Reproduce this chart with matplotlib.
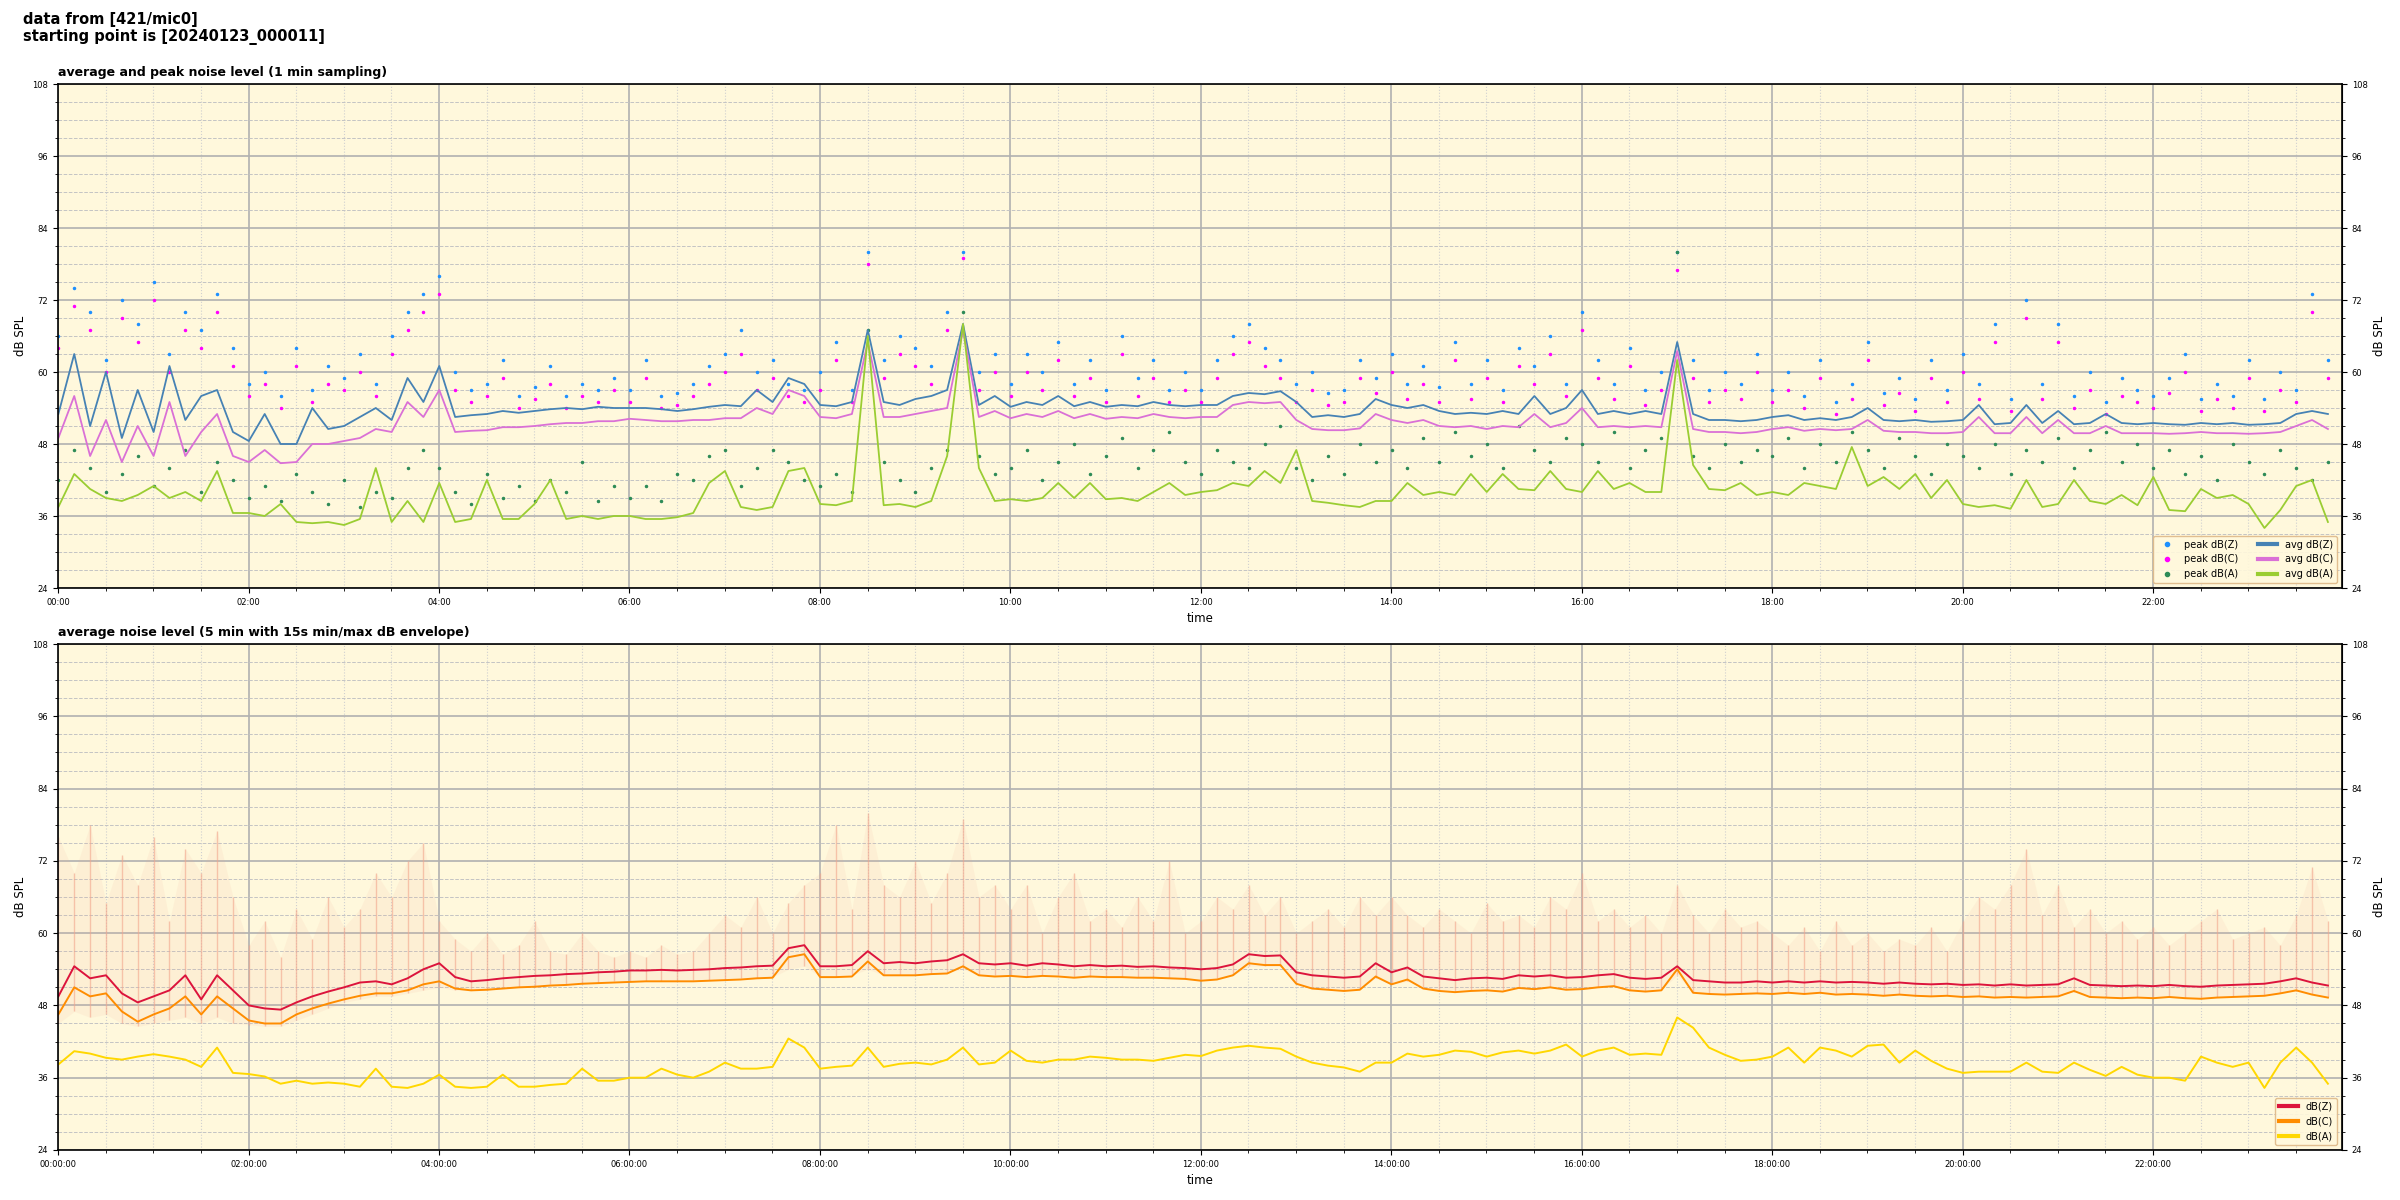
import numpy as np
import matplotlib
matplotlib.use("Agg")
import matplotlib.pyplot as plt
import matplotlib.dates as mdates
from matplotlib.ticker import MultipleLocator

# --- values, one every 10 min (12 per row = 2 h) ---

# top panel: 1 min averages
avg_z = [53, 63, 51, 60, 49, 57, 50, 61, 52, 56, 57, 50,
         48.5, 53, 48, 48, 54, 50.5, 51, 52.5, 54, 52, 59, 55,
         61, 52.5, 52.8, 53, 53.5, 53.2, 53.5, 53.8, 54, 53.8, 54.2, 54,
         54, 54, 53.8, 53.5, 53.8, 54.2, 54.5, 54.3, 57, 55, 59, 58,
         54.5, 54.3, 55, 67, 55, 54.5, 55.5, 56, 57, 68, 54.5, 56,
         54.2, 55, 54.5, 56, 54.3, 55, 54.2, 54.5, 54.3, 55, 54.5, 54.3,
         54.5, 54.5, 56, 56.5, 56.3, 56.8, 55, 52.5, 52.8, 52.5, 53, 55.5,
         54.5, 54, 54.5, 53.5, 53, 53.2, 53, 53.5, 53, 56, 53, 54,
         57, 53, 53.5, 53, 53.5, 53, 65, 53, 52, 52, 51.8, 52,
         52.5, 52.8, 52, 52.3, 52, 52.5, 54, 52, 51.8, 52, 51.7, 51.8,
         52, 54.5, 51.3, 51.5, 54.5, 51.5, 53.5, 51.3, 51.5, 53, 51.5, 51.3,
         51.5, 51.3, 51.2, 51.5, 51.3, 51.5, 51.2, 51.3, 51.5, 53, 53.5, 53]

avg_c = [49, 56, 46, 52, 45, 51, 46, 55, 46, 50, 53, 46,
         45, 47, 44.8, 45, 48, 48, 48.5, 49, 50.5, 50, 55, 52.5,
         57, 50, 50.2, 50.3, 50.8, 50.8, 51, 51.3, 51.5, 51.5, 51.8, 51.8,
         52.2, 52, 51.8, 51.8, 52, 52, 52.3, 52.3, 54, 53, 57, 56,
         52.5, 52.3, 53, 65, 52.5, 52.5, 53, 53.5, 54, 67, 52.5, 53.5,
         52.3, 53, 52.5, 53.5, 52.3, 53, 52.2, 52.5, 52.3, 53, 52.5, 52.3,
         52.5, 52.5, 54.5, 55, 54.8, 55, 52, 50.5, 50.3, 50.3, 50.6, 53,
         52, 51.5, 52, 51, 50.8, 51, 50.5, 51, 50.8, 53, 50.8, 51.5,
         54, 50.8, 51, 50.8, 51, 50.8, 63.5, 50.5, 50, 50, 49.8, 50,
         50.5, 50.8, 50.2, 50.5, 50.3, 50.5, 52, 50.2, 50, 50, 49.8, 49.8,
         50, 52.5, 49.8, 49.8, 52.5, 49.8, 52, 49.8, 49.8, 51, 49.8, 49.8,
         49.8, 49.7, 49.8, 50, 49.8, 49.8, 49.7, 49.8, 50, 51, 52, 50.5]

avg_a = [37.5, 43, 40.5, 39, 38.5, 39.5, 41, 39, 40, 38.5, 43.5, 36.5,
         36.5, 36, 38, 35, 34.8, 35, 34.5, 35.5, 44, 35, 38.5, 35,
         41.5, 35, 35.5, 42, 35.5, 35.5, 38, 42, 35.5, 36, 35.5, 36,
         36, 35.5, 35.5, 35.8, 36.5, 41.5, 43.5, 37.5, 37, 37.5, 43.5, 44,
         38, 37.8, 38.5, 66, 37.8, 38, 37.5, 38.5, 46, 68, 44, 38.5,
         38.8, 38.5, 39, 41.5, 39, 41.5, 38.8, 39, 38.5, 40, 41.5, 39.5,
         40, 40.3, 41.5, 41, 43.5, 41.5, 47, 38.5, 38.2, 37.8, 37.5, 38.5,
         38.5, 41.5, 39.5, 40, 39.5, 43, 40, 43, 40.5, 40.3, 43.5, 40.5,
         40, 43.5, 40.5, 41.5, 40, 40, 62, 44.5, 40.5, 40.3, 41.5, 39.5,
         40, 39.5, 41.5, 41, 40.5, 47.5, 41, 42.5, 40.5, 43, 39, 42,
         38, 37.5, 37.8, 37.2, 42, 37.5, 38, 42, 38.5, 38, 39.5, 37.8,
         42.5, 37, 36.8, 40.5, 39, 39.5, 38, 34, 37, 41, 42, 35]

# top panel: 1 min peaks
peak_z = [66, 74, 70, 62, 72, 68, 75, 63, 70, 67, 73, 64,
          58, 60, 56, 64, 57, 61, 59, 63, 58, 66, 70, 73,
          76, 60, 57, 58, 62, 56, 57.5, 61, 56, 58, 57, 59,
          57, 62, 56, 56.5, 58, 61, 63, 67, 60, 62, 58, 57,
          60, 65, 57, 80, 62, 66, 64, 61, 70, 80, 60, 63,
          58, 63, 60, 65, 58, 62, 57, 66, 59, 62, 57, 60,
          57, 62, 66, 68, 64, 62, 58, 60, 56.5, 57, 62, 59,
          63, 58, 61, 57.5, 65, 58, 62, 57, 64, 61, 66, 58,
          70, 62, 58, 64, 57, 60, 80, 62, 57, 60, 58, 63,
          57, 60, 56, 62, 55, 58, 65, 56.5, 59, 55.5, 62, 57,
          63, 58, 68, 55.5, 72, 58, 68, 56, 60, 55, 59, 57,
          56, 59, 63, 55.5, 58, 56, 62, 55.5, 60, 57, 73, 62]

peak_c = [64, 71, 67, 60, 69, 65, 72, 60, 67, 64, 70, 61,
          56, 58, 54, 61, 55, 58, 57, 60, 56, 63, 67, 70,
          73, 57, 55, 56, 59, 54, 55.5, 58, 54, 56, 55, 57,
          55, 59, 54, 54.5, 56, 58, 60, 63, 57, 59, 56, 55,
          57, 62, 55, 78, 59, 63, 61, 58, 67, 79, 57, 60,
          56, 60, 57, 62, 56, 59, 55, 63, 56, 59, 55, 57,
          55, 59, 63, 65, 61, 59, 55, 57, 54.5, 55, 59, 56.5,
          60, 55.5, 58, 55, 62, 55.5, 59, 55, 61, 58, 63, 56,
          67, 59, 55.5, 61, 54.5, 57, 77, 59, 55, 57, 55.5, 60,
          55, 57, 54, 59, 53, 55.5, 62, 54.5, 56.5, 53.5, 59, 55,
          60, 55.5, 65, 53.5, 69, 55.5, 65, 54, 57, 53, 56, 55,
          54, 56.5, 60, 53.5, 55.5, 54, 59, 53.5, 57, 55, 70, 59]

peak_a = [42, 47, 44, 40, 43, 46, 41, 44, 47, 40, 45, 42,
          39, 41, 38.5, 43, 40, 38, 42, 37.5, 40, 39, 44, 47,
          44, 40, 38, 43, 39, 41, 38.5, 42, 40, 45, 38.5, 41,
          39, 41, 38.5, 43, 42, 46, 47, 41, 44, 47, 45, 42,
          41, 43, 40, 67, 45, 42, 40, 44, 47, 70, 46, 43,
          44, 47, 42, 45, 48, 43, 46, 49, 44, 47, 50, 45,
          43, 47, 45, 44, 48, 51, 44, 42, 46, 43, 48, 45,
          47, 44, 49, 45, 50, 46, 48, 44, 51, 47, 45, 49,
          48, 45, 50, 44, 47, 49, 80, 46, 44, 48, 45, 47,
          46, 49, 44, 48, 45, 50, 47, 44, 49, 46, 43, 48,
          46, 44, 48, 43, 47, 45, 49, 44, 47, 50, 45, 48,
          44, 47, 43, 46, 42, 48, 45, 43, 47, 44, 42, 45]

# bottom panel: 5 min averages
db_z = [49.5, 54.5, 52.5, 53, 50, 48.5, 49.5, 50.5, 53, 49, 53, 50.5,
        48, 47.5, 47.3, 48.5, 49.5, 50.3, 51, 51.8, 52, 51.5, 52.5, 54,
        55, 52.7, 52, 52.2, 52.5, 52.7, 52.9, 53, 53.2, 53.3, 53.5, 53.6,
        53.8, 53.8, 53.9, 53.8, 53.9, 54, 54.2, 54.3, 54.5, 54.6, 57.5, 58,
        54.5, 54.5, 54.7, 57, 55, 55.2, 55, 55.3, 55.5, 56.5, 55, 54.8,
        55, 54.6, 55, 54.8, 54.5, 54.7, 54.5, 54.6, 54.4, 54.5, 54.3, 54.2,
        54, 54.2, 54.8, 56.5, 56.2, 56.3, 53.5, 53, 52.8, 52.6, 52.8, 55,
        53.5, 54.3, 52.8, 52.5, 52.2, 52.5, 52.6, 52.4, 53, 52.8, 53, 52.6,
        52.7, 53, 53.2, 52.6, 52.4, 52.6, 54.5, 52.2, 52, 51.8, 51.8, 52,
        51.8, 52, 51.8, 52, 51.8, 51.9, 51.8, 51.6, 51.8, 51.6, 51.5, 51.6,
        51.4, 51.5, 51.3, 51.5, 51.3, 51.4, 51.5, 52.5, 51.4, 51.3, 51.2, 51.3,
        51.2, 51.4, 51.2, 51.1, 51.3, 51.4, 51.5, 51.6, 52, 52.5, 51.8, 51.3]

db_c = [46.5, 51, 49.5, 50, 47, 45.3, 46.5, 47.5, 49.5, 46.5, 49.5, 47.5,
        45.5, 45, 45, 46.5, 47.5, 48.3, 49, 49.6, 50, 50, 50.5, 51.5,
        52, 50.8, 50.5, 50.6, 50.8, 51, 51.1, 51.3, 51.4, 51.6, 51.7, 51.8,
        51.9, 52, 52, 52, 52, 52.1, 52.2, 52.3, 52.5, 52.6, 56, 56.5,
        52.7, 52.7, 52.8, 55.3, 53, 53, 53, 53.2, 53.3, 54.5, 53, 52.8,
        52.9, 52.7, 52.9, 52.8, 52.6, 52.8, 52.7, 52.7, 52.6, 52.6, 52.5, 52.4,
        52.1, 52.3, 53, 55, 54.7, 54.7, 51.6, 50.8, 50.6, 50.4, 50.6, 52.8,
        51.5, 52.3, 50.8, 50.4, 50.2, 50.4, 50.5, 50.3, 50.9, 50.7, 51, 50.6,
        50.7, 51, 51.2, 50.5, 50.3, 50.5, 54, 50.1, 49.9, 49.8, 49.9, 50,
        49.9, 50.1, 49.9, 50.1, 49.8, 49.9, 49.8, 49.6, 49.8, 49.6, 49.5, 49.6,
        49.4, 49.5, 49.3, 49.4, 49.3, 49.4, 49.5, 50.4, 49.4, 49.3, 49.2, 49.3,
        49.2, 49.4, 49.2, 49.1, 49.3, 49.4, 49.5, 49.6, 50, 50.5, 49.8, 49.3]

db_a = [38.2, 40.4, 40, 39.3, 39, 39.5, 39.9, 39.5, 39, 37.8, 41, 36.8,
        36.6, 36.2, 35, 35.5, 35, 35.2, 35, 34.5, 37.5, 34.5, 34.3, 35,
        36.5, 34.5, 34.3, 34.5, 36.5, 34.5, 34.5, 34.8, 35, 37.5, 35.5, 35.5,
        36, 36, 37.5, 36.5, 36, 37, 38.5, 37.5, 37.5, 37.8, 42.5, 41,
        37.5, 37.8, 38, 41, 37.8, 38.3, 38.5, 38.2, 39, 41, 38.2, 38.5,
        40.5, 38.8, 38.5, 39, 39, 39.5, 39.3, 39, 39, 38.8, 39.3, 39.8,
        39.6, 40.5, 41, 41.3, 41, 40.8, 39.5, 38.5, 38, 37.7, 37, 38.5,
        38.5, 40, 39.5, 39.8, 40.5, 40.3, 39.5, 40.2, 40.5, 40, 40.5, 41.5,
        39.5, 40.5, 41, 39.8, 40, 39.8, 46, 44.3, 41, 39.8, 38.8, 39,
        39.5, 41, 38.5, 41, 40.5, 39.5, 41.3, 41.5, 38.5, 40.5, 38.8, 37.5,
        36.8, 37, 37, 37, 38.5, 37, 36.8, 38.5, 37.3, 36.3, 37.8, 36.5,
        36, 36, 35.5, 39.5, 38.5, 37.8, 38.5, 34.3, 38.5, 41, 38.5, 35]

# bottom panel: 15 s min/max envelope
env_hi = [76, 70, 78, 65, 73, 68, 76, 62, 74, 70, 77, 66,
          58, 62, 56, 64, 59, 66, 61, 64, 70, 66, 72, 75,
          62, 59, 57, 60, 56.5, 58, 62, 57, 56.5, 60, 57, 56,
          57, 56, 58, 56.5, 57, 60, 63, 61, 66, 60, 65, 68,
          70, 78, 64, 80, 68, 66, 72, 65, 70, 79, 66, 68,
          64, 68, 60, 66, 70, 62, 64, 61, 66, 62, 72, 60,
          62, 66, 64, 68, 63, 66, 60, 62, 64, 61, 66, 63,
          66, 63, 61, 64, 62, 60, 65, 62, 63, 61, 66, 64,
          70, 62, 64, 61, 63, 60, 68, 63, 60, 64, 61, 62,
          60, 58, 61, 57, 62, 58, 60, 57, 59, 58, 61, 57,
          62, 66, 64, 68, 74, 63, 68, 61, 64, 60, 62, 59,
          61, 58, 60, 62, 64, 59, 60, 61, 58, 63, 71, 62]

env_lo = [45, 47, 46, 46.5, 45, 44.5, 45, 45.5, 46, 45, 46, 45,
          44.8, 44.5, 44.5, 45.5, 46.5, 47.5, 48.5, 49, 49.5, 49.5, 50, 50.5,
          51, 50.5, 50.5, 50.5, 51, 51, 51, 51.5, 51.5, 51.5, 51.8, 52,
          52, 52, 52, 52, 52.2, 52.3, 52.3, 52.5, 52.5, 52.7, 54, 54.5,
          52.8, 52.8, 53, 54, 53, 53, 53, 53.2, 53.5, 54, 53, 53,
          53, 52.8, 53, 53, 52.7, 52.8, 52.8, 52.7, 52.7, 52.6, 52.5, 52.5,
          52.2, 52.5, 53, 54.5, 54.5, 54.5, 51.8, 51, 50.8, 50.6, 50.8, 52.5,
          51.5, 52, 51, 50.5, 50.3, 50.5, 50.6, 50.5, 51, 50.8, 51, 50.7,
          50.8, 51, 51.2, 50.6, 50.4, 50.6, 53, 50.2, 50, 50, 50, 50.1,
          50, 50.2, 50, 50.2, 50, 50, 49.9, 49.8, 49.9, 49.7, 49.6, 49.7,
          49.5, 49.6, 49.4, 49.5, 49.4, 49.5, 49.6, 50.3, 49.5, 49.4, 49.3, 49.4,
          49.3, 49.5, 49.3, 49.2, 49.4, 49.5, 49.6, 49.7, 50, 50.4, 49.9, 49.4]

t = np.datetime64("2024-01-23T00:00:11") + np.arange(len(avg_z)) * np.timedelta64(10, "m")

BG = "#fff8dc"


def style(ax, fmt):
    ax.set_facecolor(BG)
    ax.set_axisbelow(True)
    ax.set_ylim(24, 108)
    ax.set_yticks(np.arange(24, 109, 12))
    ax.yaxis.set_minor_locator(MultipleLocator(3))
    ax.set_xlim(np.datetime64("2024-01-23T00:00"), np.datetime64("2024-01-23T23:59"))
    ax.xaxis.set_major_locator(mdates.HourLocator(byhour=range(0, 24, 2)))
    ax.xaxis.set_minor_locator(mdates.MinuteLocator(byminute=[0, 30]))
    ax.xaxis.set_major_formatter(mdates.DateFormatter(fmt))
    ax.grid(which="major", color="#b0b0b0", lw=1.2)
    ax.grid(which="minor", axis="y", color="#c4c4c4", ls="--", lw=0.7)
    ax.grid(which="minor", axis="x", color="#d0d0d0", ls=":", lw=0.8)
    ax.tick_params(which="both", labelsize=6)
    ax.set_ylabel("dB SPL", fontsize=8.5)
    ax.set_xlabel("time", fontsize=8.5)
    for s in ax.spines.values():
        s.set_linewidth(1.2)
    sec = ax.secondary_yaxis("right")
    sec.set_yticks(np.arange(24, 109, 12))
    sec.yaxis.set_minor_locator(MultipleLocator(3))
    sec.tick_params(which="both", labelsize=6)
    sec.set_ylabel("dB SPL", fontsize=8.5)


fig = plt.figure(figsize=(24, 12), dpi=100)
fig.text(0.0096, 0.99, "data from [421/mic0]\nstarting point is [20240123_000011]",
         fontsize=10.5, fontweight="bold", va="top", ha="left")

# top panel
ax1 = fig.add_axes([0.0242, 0.51, 0.9516, 0.42])
style(ax1, "%H:%M")
ax1.plot(t, peak_z, ls="none", marker=".", ms=3, color="#1e90ff", label="peak dB(Z)")
ax1.plot(t, peak_c, ls="none", marker=".", ms=3, color="#ff00ff", label="peak dB(C)")
ax1.plot(t, peak_a, ls="none", marker=".", ms=3, color="#2e8b57", label="peak dB(A)")
ax1.plot(t, avg_z, lw=1.3, color="#4682b4", label="avg dB(Z)")
ax1.plot(t, avg_c, lw=1.3, color="#da70d6", label="avg dB(C)")
ax1.plot(t, avg_a, lw=1.3, color="#9acd32", label="avg dB(A)")
ax1.set_title("average and peak noise level (1 min sampling)", loc="left",
              fontsize=9, fontweight="bold")
leg1 = ax1.legend(loc="lower right", ncol=2, fontsize=7, facecolor=BG,
                  edgecolor="#deb887", framealpha=0.9, markerscale=2)
for ln in leg1.get_lines():
    ln.set_linewidth(3)

# bottom panel: thin min/max spikes over a faint band
ax2 = fig.add_axes([0.0242, 0.0417, 0.9516, 0.4216])
style(ax2, "%H:%M:%S")
ax2.fill_between(t, env_lo, env_hi, color="#f4a98f", alpha=0.1, lw=0)
ax2.vlines(t, env_lo, env_hi, color="#f2a58c", alpha=0.6, lw=1)
ax2.plot(t, db_z, lw=1.4, color="#dc143c", label="dB(Z)")
ax2.plot(t, db_c, lw=1.4, color="#ff8c00", label="dB(C)")
ax2.plot(t, db_a, lw=1.4, color="#ffd700", label="dB(A)")
ax2.set_title("average noise level (5 min with 15s min/max dB envelope)", loc="left",
              fontsize=9, fontweight="bold")
leg2 = ax2.legend(loc="lower right", fontsize=7, facecolor=BG,
                  edgecolor="#deb887", framealpha=0.9)
for ln in leg2.get_lines():
    ln.set_linewidth(3)

fig.savefig("out.png", dpi=100)
